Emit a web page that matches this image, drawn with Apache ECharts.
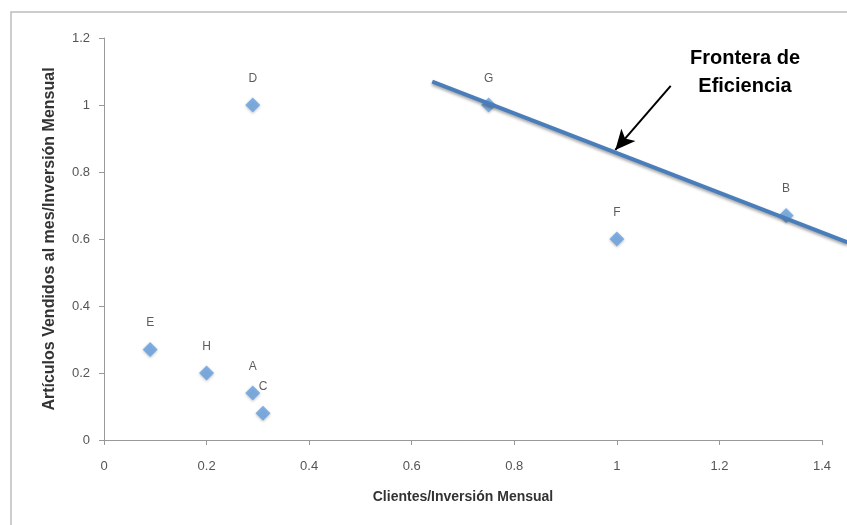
<!DOCTYPE html>
<html>
<head>
<meta charset="utf-8">
<script src="https://cdn.jsdelivr.net/npm/echarts@6/dist/echarts.min.js"></script>
<style>
  html, body { margin: 0; padding: 0; background: #fff; }
  #main { width: 847px; height: 525px; }
</style>
</head>
<body>
<div id="main"></div>
<script>
// puntos (empresas)
var nombres = ['A', 'B', 'C', 'D', 'E', 'F', 'G', 'H'];
var clientes = [0.29, 1.33, 0.31, 0.29, 0.09, 1.0, 0.75, 0.2];
var articulos = [0.14, 0.67, 0.08, 1.0, 0.27, 0.6, 1.0, 0.2];
// frontera de eficiencia (extremos de la recta)
var fronteraX = [0.64, 1.45];
var fronteraY = [1.07, 0.59];
// flecha de la anotacion
var flecha = [[1.105, 1.057], [0.997, 0.866]];
var xTicks = [0, 1.4, 0.2];
var yTicks = [0, 1.2, 0.2];

var puntos = nombres.map(function (n, i) {
  return { name: n, value: [clientes[i], articulos[i]] };
});

var fuente = '"Liberation Sans", Arial, sans-serif';

var myChart = echarts.init(document.getElementById('main'));
myChart.setOption({
  animation: false,
  grid: { left: 104, right: 25, top: 38, bottom: 85 },
  graphic: [
    {
      type: 'rect',
      shape: { x: 11, y: 12, width: 900, height: 600 },
      style: { fill: 'none', stroke: '#bdbdbd', lineWidth: 1.5 },
      silent: true
    },
    {
      type: 'text',
      x: 745, y: 44,
      style: {
        text: 'Frontera de\nEficiencia',
        textAlign: 'center',
        font: 'bold 20px "Liberation Sans", Arial, sans-serif',
        lineHeight: 28,
        fill: '#000'
      }
    }
  ],
  xAxis: {
    type: 'value',
    min: xTicks[0], max: xTicks[1], interval: xTicks[2],
    name: 'Clientes/Inversión Mensual',
    nameLocation: 'middle',
    nameGap: 50,
    nameTextStyle: { fontFamily: fuente, fontSize: 14, fontWeight: 'bold', color: '#333' },
    splitLine: { show: false },
    axisLine: { lineStyle: { color: '#999' } },
    axisTick: { show: true, length: 5, lineStyle: { color: '#999' } },
    axisLabel: { fontFamily: fuente, fontSize: 13, color: '#555', margin: 20 }
  },
  yAxis: {
    type: 'value',
    min: yTicks[0], max: yTicks[1], interval: yTicks[2],
    name: 'Artículos Vendidos al mes/Inversión Mensual',
    nameLocation: 'middle',
    nameGap: 46,
    nameTextStyle: { fontFamily: fuente, fontSize: 16, fontWeight: 'bold', color: '#333' },
    splitLine: { show: false },
    axisLine: { show: true, lineStyle: { color: '#999' } },
    axisTick: { show: true, length: 5, lineStyle: { color: '#999' } },
    axisLabel: { fontFamily: fuente, fontSize: 13, color: '#555', margin: 14 }
  },
  series: [
    {
      // recta de la frontera, sin recorte para que salga del area
      type: 'custom',
      clip: false,
      z: 3,
      data: [[fronteraX[0], fronteraY[0], fronteraX[1], fronteraY[1]]],
      encode: { x: [0, 2], y: [1, 3] },
      renderItem: function (params, api) {
        var p1 = api.coord([api.value(0), api.value(1)]);
        var p2 = api.coord([api.value(2), api.value(3)]);
        return {
          type: 'line',
          shape: { x1: p1[0], y1: p1[1], x2: p2[0], y2: p2[1] },
          style: {
            stroke: '#4a7ebb', lineWidth: 4,
            shadowColor: 'rgba(0,0,0,0.35)', shadowBlur: 3, shadowOffsetY: 2
          }
        };
      }
    },
    {
      type: 'scatter',
      data: puntos,
      symbol: 'diamond',
      symbolSize: 15,
      z: 2,
      itemStyle: {
        color: '#66a0df',
        shadowColor: 'rgba(0,0,0,0.3)', shadowBlur: 3, shadowOffsetY: 1
      },
      label: {
        show: true,
        position: 'top',
        distance: 13,
        formatter: '{b}',
        fontFamily: fuente,
        fontSize: 12,
        color: '#333'
      },
      markLine: {
        silent: true,
        symbol: ['none', 'arrow'],
        symbolSize: [14, 20],
        label: { show: false },
        lineStyle: { color: '#000', width: 2, type: 'solid' },
        data: [[{ coord: flecha[0] }, { coord: flecha[1] }]]
      }
    }
  ]
});
</script>
</body>
</html>
